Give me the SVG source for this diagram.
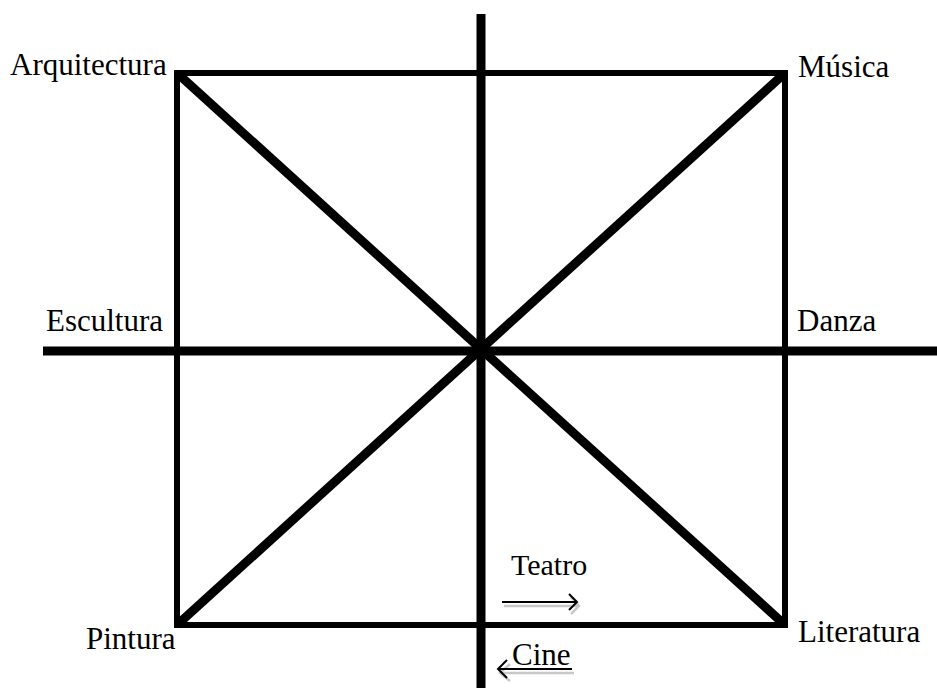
<svg xmlns="http://www.w3.org/2000/svg" width="937" height="688" viewBox="0 0 937 688">
  <style>
    text { font-family: 'Liberation Serif', 'Times New Roman', serif; font-size: 31px; fill: #000; }
    .thick { stroke: #000; stroke-width: 9; fill: none; }
    .rect { stroke: #000; stroke-width: 6; fill: none; }
    .thin { stroke: #000; stroke-width: 2; fill: none; }
    .shadow { stroke: #c8c8c8; stroke-width: 2.5; fill: none; }
  </style>
  <rect width="937" height="688" fill="#fff"/>
  <g id="connectors">
    <rect class="rect" x="177" y="73" width="608" height="552"/>
    <line class="thick" x1="177" y1="73" x2="785" y2="625"/>
    <line class="thick" x1="785" y1="73" x2="177" y2="625"/>
    <line class="thick" x1="43" y1="351" x2="937" y2="351"/>
    <line class="thick" x1="481" y1="14" x2="481" y2="688"/>
    <g id="arrow-teatro">
      <polyline class="shadow" points="504,606 579,606"/>
      <polyline class="shadow" points="571,597 579,606 571,614"/>
      <line class="thin" x1="502" y1="602" x2="577" y2="602"/>
      <polyline class="thin" points="569,594 577,602 569,610"/>
    </g>
    <g id="arrow-cine">
      <polyline class="shadow" points="500,673 574,673"/>
      <polyline class="shadow" points="510,664 500,673 510,681"/>
      <line class="thin" x1="498" y1="669" x2="572" y2="669"/>
      <polyline class="thin" points="507,660 498,669 507,678"/>
    </g>
  </g>
  <g id="arquitectura"><text x="10" y="75">Arquitectura</text></g>
  <g id="musica"><text x="798" y="77">Música</text></g>
  <g id="escultura"><text x="46" y="331">Escultura</text></g>
  <g id="danza"><text x="797" y="331">Danza</text></g>
  <g id="pintura"><text x="86" y="649">Pintura</text></g>
  <g id="literatura"><text x="798" y="642">Literatura</text></g>
  <g id="teatro"><text x="511" y="575" style="font-size:30px">Teatro</text></g>
  <g id="cine"><text x="512" y="665">Cine</text></g>
</svg>
